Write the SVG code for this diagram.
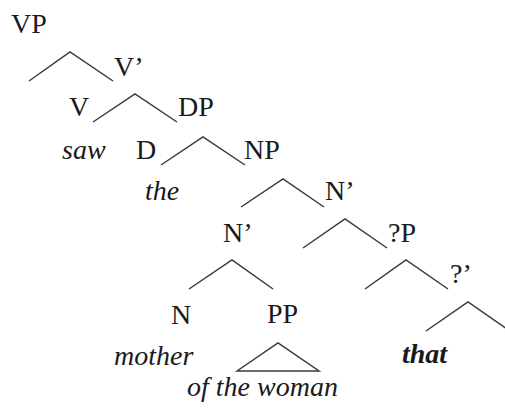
<svg xmlns="http://www.w3.org/2000/svg" width="505" height="412" viewBox="0 0 505 412">
<rect width="505" height="412" fill="#fff"/>
<g id="connectors" fill="none" stroke="#3a3a3a" stroke-width="1.5">
<polyline points="29,81 70,52 113,81"/>
<polyline points="93,122 135,94 177,122"/>
<polyline points="161,165 203,137 245,165"/>
<polyline points="241,207 283,179 324,207"/>
<polyline points="303,248 345,219 387,248"/>
<polyline points="189,289 232,260 273,289"/>
<polyline points="365,289 406,260 448,289"/>
<polyline points="426,331 468,302 510,331"/>
<polygon points="237,371 278,343 319,371"/>
</g>
<g id="nodes" font-family="Liberation Serif" font-size="28" fill="#1a1a1a">
<g id="node-VP"><text x="11" y="33">VP</text></g>
<g id="node-Vbar"><text x="114" y="76">V’</text></g>
<g id="node-V"><text x="69" y="116">V</text></g>
<g id="node-saw"><text font-style="italic" x="62" y="159">saw</text></g>
<g id="node-DP"><text x="178" y="116">DP</text></g>
<g id="node-D"><text x="136" y="159">D</text></g>
<g id="node-the"><text font-style="italic" x="145" y="200">the</text></g>
<g id="node-NP"><text x="244" y="159">NP</text></g>
<g id="node-Nbar-top"><text x="325" y="200">N’</text></g>
<g id="node-Nbar"><text x="223" y="242">N’</text></g>
<g id="node-QP"><text x="388" y="242">?P</text></g>
<g id="node-Qbar"><text x="450" y="283">?’</text></g>
<g id="node-N"><text x="171" y="324">N</text></g>
<g id="node-mother"><text font-style="italic" x="114" y="365">mother</text></g>
<g id="node-PP"><text x="267" y="323">PP</text></g>
<g id="node-ofthewoman"><text font-style="italic" x="187" y="396">of the woman</text></g>
<g id="node-that"><text font-style="italic" font-weight="bold" x="402" y="363">that</text></g>
</g>
</svg>
